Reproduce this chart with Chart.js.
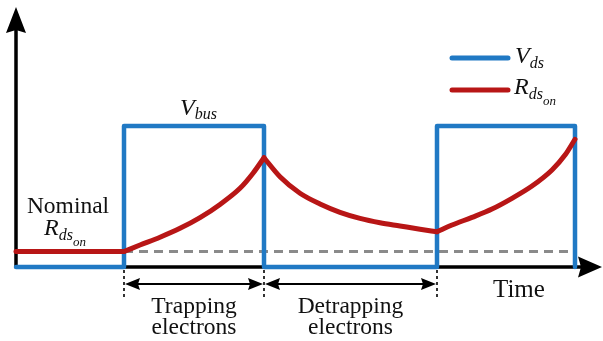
<!DOCTYPE html>
<html>
<head>
<meta charset="utf-8">
<script src="https://cdn.jsdelivr.net/npm/chart.js@4"></script>
<style>
  html, body { margin: 0; padding: 0; background: #fff; }
  canvas { display: block; }
</style>
</head>
<body>
<canvas id="chart_trapping" width="603" height="341"></canvas>
<script>
// switching edges of the V_ds pulse (arbitrary time units)
const pulseEdges = [1.08, 2.48, 4.21, 5.59];

// V_ds square wave
const vdsTime = [0, 1.08, 1.08, 2.48, 2.48, 4.21, 4.21, 5.59, 5.59];
const vdsLevel = [0, 0, 1, 1, 0, 0, 1, 1, 0];

// R_ds_on
const nominalR = 0.11;
const rNominalTime = [0, 1.08];
const rTrap1Time = [1.08, 1.24, 1.44, 1.64, 1.84, 2.04, 2.24, 2.37, 2.48];
const rTrap1 = [0.11, 0.156, 0.211, 0.274, 0.350, 0.444, 0.558, 0.665, 0.775];
const rDetrapTime = [2.48, 2.64, 2.84, 3.04, 3.24, 3.44, 3.64, 3.84, 4.04, 4.21];
const rDetrap = [0.775, 0.640, 0.523, 0.447, 0.388, 0.345, 0.314, 0.291, 0.268, 0.25];
const rTrap2Time = [4.21, 4.36, 4.56, 4.76, 4.96, 5.16, 5.36, 5.49, 5.59];
const rTrap2 = [0.25, 0.298, 0.352, 0.411, 0.487, 0.574, 0.688, 0.794, 0.906];

const blue = '#2079c4', red = '#b81616', grey = '#8a8a8a';
const SERIF = '"Liberation Serif", serif';

const pts = (xs, ys) => xs.map((x, i) => ({ x: x, y: ys[i] }));

const redLine = (data) => ({
  data: data,
  borderColor: red,
  borderWidth: 5,
  cubicInterpolationMode: 'monotone',
  borderCapStyle: 'round',
  order: 1
});

// draws a label made of pieces: [text, size, baselineShift, italic]
function mathText(ctx, x, y, parts) {
  parts.forEach(([t, size, dy, italic]) => {
    ctx.font = (italic ? 'italic ' : '') + size + 'px ' + SERIF;
    ctx.fillText(t, x, y + dy);
    x += ctx.measureText(t).width;
  });
}

function stealth(ctx, tipX, tipY, dirX, dirY, len, half, notch) {
  let px = -dirY, py = dirX;
  let bx = tipX - dirX * len, by = tipY - dirY * len;
  ctx.beginPath();
  ctx.moveTo(tipX, tipY);
  ctx.lineTo(bx + px * half, by + py * half);
  ctx.lineTo(tipX - dirX * (len - notch), tipY - dirY * (len - notch));
  ctx.lineTo(bx - px * half, by - py * half);
  ctx.closePath();
  ctx.fill();
}

const diagram = {
  id: 'diagram',
  beforeDatasetsDraw(chart) {
    let { ctx, scales: { x, y } } = chart;
    let x0 = x.getPixelForValue(0), y0 = y.getPixelForValue(0);
    ctx.save();
    ctx.strokeStyle = '#000';
    ctx.lineWidth = 3.5;
    ctx.beginPath();
    ctx.moveTo(x0, y0);
    ctx.lineTo(x0, 20);
    ctx.moveTo(x0, y0);
    ctx.lineTo(590, y0);
    ctx.stroke();
    ctx.restore();
  },
  afterDraw(chart) {
    let { ctx, scales: { x, y } } = chart;
    let x0 = x.getPixelForValue(0), y0 = y.getPixelForValue(0);
    ctx.save();
    ctx.fillStyle = '#000';
    stealth(ctx, x0, 7, 0, -1, 26, 10, 3);
    stealth(ctx, 602, y0, 1, 0, 24, 10.5, 3);

    // dotted markers below the axis
    let edges = pulseEdges.slice(0, 3).map(t => x.getPixelForValue(t));
    ctx.strokeStyle = '#000';
    ctx.lineWidth = 1.6;
    ctx.setLineDash([3, 3]);
    edges.forEach(px => {
      ctx.beginPath();
      ctx.moveTo(px, y0 + 3);
      ctx.lineTo(px, 299);
      ctx.stroke();
    });
    ctx.setLineDash([]);

    // double arrows
    let ay = 284;
    ctx.lineWidth = 2;
    for (let i = 0; i < 2; i++) {
      let a = edges[i] + 1, b = edges[i + 1] - 1;
      ctx.beginPath();
      ctx.moveTo(a + 8, ay);
      ctx.lineTo(b - 8, ay);
      ctx.stroke();
      stealth(ctx, a, ay, -1, 0, 15, 6, 2);
      stealth(ctx, b, ay, 1, 0, 15, 6, 2);
    }

    // text
    ctx.fillStyle = '#111';
    ctx.textBaseline = 'alphabetic';
    ctx.textAlign = 'center';
    ctx.font = '23.5px ' + SERIF;
    let mid1 = (edges[0] + edges[1]) / 2, mid2 = (edges[1] + edges[2]) / 2;
    ctx.fillText('Trapping', mid1, 313);
    ctx.fillText('electrons', mid1, 334);
    ctx.fillText('Detrapping', mid2, 313);
    ctx.fillText('electrons', mid2, 334);
    ctx.fillText('Nominal', 68, 213);
    ctx.textAlign = 'left';
    ctx.font = '25px ' + SERIF;
    ctx.fillText('Time', 493, 297);

    mathText(ctx, 44, 235, [['R', 24, 0, true], ['ds', 16, 5, true], ['on', 13, 11, true]]);
    mathText(ctx, 180, 115, [['V', 24, 0, true], ['bus', 16, 4, true]]);

    // legend
    ctx.lineCap = 'round';
    ctx.lineWidth = 5;
    [[blue, 58], [red, 90]].forEach(([c, ly]) => {
      ctx.strokeStyle = c;
      ctx.beginPath();
      ctx.moveTo(452, ly);
      ctx.lineTo(508, ly);
      ctx.stroke();
    });
    mathText(ctx, 515, 63, [['V', 24, 0, true], ['ds', 16, 5, true]]);
    mathText(ctx, 514, 94, [['R', 24, 0, true], ['ds', 16, 5, true], ['on', 13, 11, true]]);
    ctx.restore();
  }
};

new Chart('chart_trapping', {
  type: 'line',
  plugins: [diagram],
  data: {
    datasets: [
      redLine(pts(rNominalTime, [nominalR, nominalR])),
      redLine(pts(rTrap1Time, rTrap1)),
      redLine(pts(rDetrapTime, rDetrap)),
      redLine(pts(rTrap2Time, rTrap2)),
      {
        data: pts(vdsTime, vdsLevel),
        borderColor: blue,
        borderWidth: 4.5,
        borderJoinStyle: 'round',
        borderCapStyle: 'round',
        tension: 0,
        order: 2
      },
      {
        data: pts([pulseEdges[0], pulseEdges[3]], [nominalR, nominalR]),
        borderColor: grey,
        borderWidth: 3,
        borderDash: [9, 6],
        order: 3
      }
    ]
  },
  options: {
    responsive: false,
    animation: false,
    devicePixelRatio: 1,
    layout: { padding: 0 },
    elements: { point: { radius: 0 } },
    clip: false,
    plugins: { legend: { display: false }, tooltip: { enabled: false } },
    scales: {
      x: { type: 'linear', min: -0.16, max: 5.87, display: false },
      y: { type: 'linear', min: -0.525, max: 1.894, display: false }
    }
  }
});
</script>
</body>
</html>
